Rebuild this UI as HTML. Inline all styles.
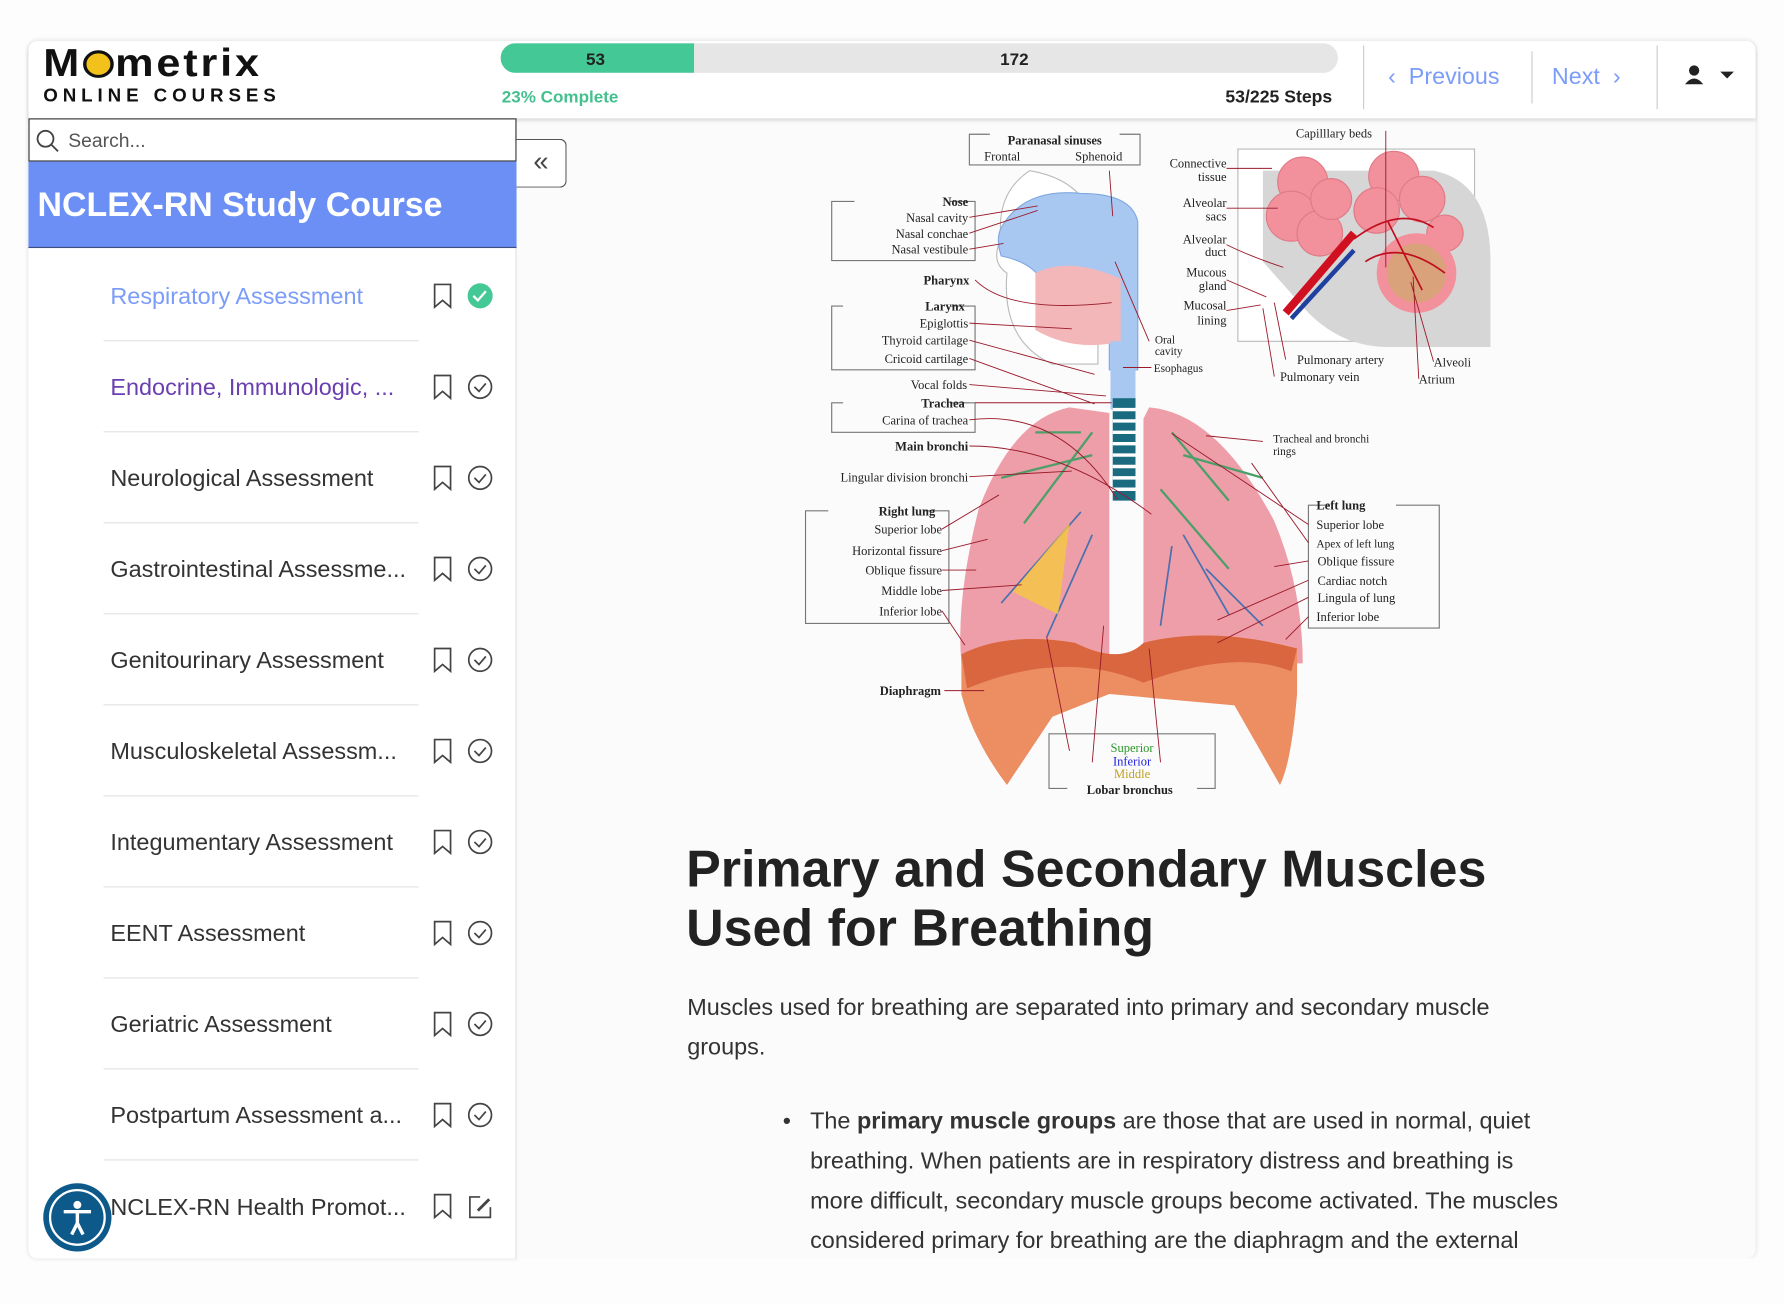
<!DOCTYPE html>
<html><head><meta charset="utf-8">
<style>
*{box-sizing:border-box;margin:0;padding:0}
html,body{width:1784px;height:1300px;overflow:hidden;background:#fdfdfd;font-family:"Liberation Sans",sans-serif}
#w{position:absolute;left:0;top:0;width:1568px;height:1143px;transform:scale(1.13776);transform-origin:0 0}
.a{position:absolute;white-space:nowrap}
.card{position:absolute;left:25px;top:36px;width:1518px;height:1070px;background:#fbfbfc;border-radius:8px;box-shadow:0 0 4px rgba(0,0,0,.12)}
.hdr{position:absolute;left:25px;top:36px;width:1518px;height:68px;background:#fff;border-radius:8px 8px 0 0;box-shadow:0 2px 3px rgba(0,0,0,.12)}
.side{position:absolute;left:25px;top:104px;width:429px;height:1002px;background:#fff;border-right:1px solid #ddd;border-radius:0 0 0 8px}
.item{position:absolute;left:97px;font-size:20.6px;color:#333}
.sep{position:absolute;left:91px;width:277px;height:1px;background:#e2e2e2}
.vd{position:absolute;width:1px;background:#ccc}
</style></head><body><div id="w">
<div class="card"></div>
<div class="hdr"></div>
<!-- logo -->
<div class="a" style="left:38px;top:37px;font-size:38px;font-weight:900;letter-spacing:2.5px;color:#111;transform:scaleY(.9);transform-origin:0 0">M<span style="display:inline-block;width:27px;height:27px;border-radius:50%;background:#f2c21b;border:3px solid #111;vertical-align:-2px;margin:0 1px"></span>metrix</div>
<div class="a" style="left:38px;top:75px;font-size:16.5px;font-weight:700;letter-spacing:4.3px;color:#111">ONLINE COURSES</div>
<!-- progress -->
<div class="a" style="left:440px;top:38px;width:736px;height:26px;border-radius:13px;background:#e6e6e6;overflow:hidden"><div style="width:170px;height:26px;background:#44c896"></div></div>
<div class="a" style="left:515px;top:44px;font-size:15px;font-weight:700;color:#222">53</div>
<div class="a" style="left:879px;top:44px;font-size:15px;font-weight:700;color:#222">172</div>
<div class="a" style="left:441px;top:77px;font-size:15px;font-weight:700;color:#44c08f">23% Complete</div>
<div class="a" style="left:1077px;top:77px;font-size:15.5px;font-weight:700;color:#222">53/225 Steps</div>
<div class="vd" style="left:1198px;top:40px;height:56px"></div>
<div class="vd" style="left:1346px;top:45px;height:46px"></div>
<div class="vd" style="left:1456px;top:40px;height:56px"></div>
<div class="a" style="left:1220px;top:56px;font-size:20.5px;color:#7b9cf8">&#8249;&nbsp; Previous</div>
<div class="a" style="left:1364px;top:56px;font-size:20.5px;color:#7b9cf8">Next &nbsp;&#8250;</div>
<svg class="a" style="left:1478px;top:56px" width="50" height="22"><circle cx="11" cy="6" r="4.5" fill="#222"/><path d="M3 18 Q11 8 19 18Z" fill="#222"/><path d="M34 7h12l-6 6z" fill="#222"/></svg>
<!-- sidebar -->
<div class="side"></div>
<div class="a" style="left:25px;top:104px;width:429px;height:38px;border:1.5px solid #333;background:#fff"></div>
<svg class="a" style="left:31px;top:113px" width="22" height="22"><circle cx="9" cy="9" r="7" stroke="#444" stroke-width="1.6" fill="none"/><path d="M14 14l6 6" stroke="#444" stroke-width="1.6"/></svg>
<div class="a" style="left:60px;top:114px;font-size:17px;color:#555">Search...</div>
<div class="a" style="left:25px;top:142px;width:429px;height:76px;background:#6b8ff5;border-bottom:1px solid #3d4d80"></div>
<div class="a" style="left:33px;top:164px;font-size:29.8px;font-weight:700;color:#fff">NCLEX-RN Study Course</div>
<div class="a" style="left:454px;top:122px;width:44px;height:43px;border:1.5px solid #555;border-left:none;border-radius:0 6px 6px 0;background:#fff;font-size:24px;color:#444;text-align:center;line-height:40px">&#171;</div>

<div class="item" style="top:249px;color:#7b9cf8">Respiratory Assessment</div>
<div class="item" style="top:329px;color:#6a3fb0">Endocrine, Immunologic, ...</div>
<div class="item" style="top:409px">Neurological Assessment</div>
<div class="item" style="top:489px">Gastrointestinal Assessme...</div>
<div class="item" style="top:569px">Genitourinary Assessment</div>
<div class="item" style="top:649px">Musculoskeletal Assessm...</div>
<div class="item" style="top:729px">Integumentary Assessment</div>
<div class="item" style="top:809px">EENT Assessment</div>
<div class="item" style="top:889px">Geriatric Assessment</div>
<div class="item" style="top:969px">Postpartum Assessment a...</div>
<div class="item" style="top:1050px">NCLEX-RN Health Promot...</div>
<div class="sep" style="top:299px"></div><div class="sep" style="top:379px"></div><div class="sep" style="top:459px"></div><div class="sep" style="top:539px"></div><div class="sep" style="top:619px"></div><div class="sep" style="top:699px"></div><div class="sep" style="top:779px"></div><div class="sep" style="top:859px"></div><div class="sep" style="top:939px"></div><div class="sep" style="top:1019px"></div>
<svg class="a" style="left:370px;top:240px" width="70" height="840" fill="none" stroke="#444" stroke-width="1.5">
<path d="M12 10h14v20l-7-6-7 6z"/>
<circle cx="52" cy="20" r="11" fill="#44c896" stroke="none"/><path d="M46 20l4 4 7-8" stroke="#fff" stroke-width="2"/>
<g transform="translate(0,80)"><path d="M12 10h14v20l-7-6-7 6z"/><circle cx="52" cy="20" r="10"/><path d="M47 20l4 4 6-7"/></g>
<g transform="translate(0,160)"><path d="M12 10h14v20l-7-6-7 6z"/><circle cx="52" cy="20" r="10"/><path d="M47 20l4 4 6-7"/></g>
<g transform="translate(0,240)"><path d="M12 10h14v20l-7-6-7 6z"/><circle cx="52" cy="20" r="10"/><path d="M47 20l4 4 6-7"/></g>
<g transform="translate(0,320)"><path d="M12 10h14v20l-7-6-7 6z"/><circle cx="52" cy="20" r="10"/><path d="M47 20l4 4 6-7"/></g>
<g transform="translate(0,400)"><path d="M12 10h14v20l-7-6-7 6z"/><circle cx="52" cy="20" r="10"/><path d="M47 20l4 4 6-7"/></g>
<g transform="translate(0,480)"><path d="M12 10h14v20l-7-6-7 6z"/><circle cx="52" cy="20" r="10"/><path d="M47 20l4 4 6-7"/></g>
<g transform="translate(0,560)"><path d="M12 10h14v20l-7-6-7 6z"/><circle cx="52" cy="20" r="10"/><path d="M47 20l4 4 6-7"/></g>
<g transform="translate(0,640)"><path d="M12 10h14v20l-7-6-7 6z"/><circle cx="52" cy="20" r="10"/><path d="M47 20l4 4 6-7"/></g>
<g transform="translate(0,720)"><path d="M12 10h14v20l-7-6-7 6z"/><circle cx="52" cy="20" r="10"/><path d="M47 20l4 4 6-7"/></g>
<g transform="translate(0,800)"><path d="M12 10h14v20l-7-6-7 6z"/><path d="M52 12h-9v18h18v-9"/><path d="M50 24l10-10" stroke-width="2.5"/></g>
</svg>
<svg class="a" style="left:37px;top:1039px" width="62" height="62"><circle cx="31" cy="31" r="30" fill="#0d5a8a"/><circle cx="31" cy="31" r="24" fill="none" stroke="#fff" stroke-width="2"/><circle cx="31" cy="20" r="3.5" fill="#fff"/><path d="M19 26h24M31 26v10l-5 10M31 36l5 10" stroke="#fff" stroke-width="3" fill="none"/></svg>

<!-- diagram -->
<svg class="a" style="left:0;top:0" width="1568" height="1143" font-family="Liberation Serif,serif" font-size="11" fill="#222">
<rect x="1088" y="131" width="208" height="169" fill="#fff" stroke="#bbb"/>
<path d="M1110 150h150q50 10 50 80v75h-90q-40 0-70-30l-40-45z" fill="#d6d6d6"/>
<g fill="#f2909b" stroke="#e07a86"><circle cx="1145" cy="160" r="22"/><circle cx="1135" cy="190" r="22"/><circle cx="1160" cy="205" r="20"/><circle cx="1170" cy="175" r="18"/><circle cx="1225" cy="155" r="22"/><circle cx="1210" cy="185" r="20"/><circle cx="1250" cy="175" r="20"/><circle cx="1270" cy="205" r="16"/></g>
<circle cx="1245" cy="240" r="35" fill="#f2909b"/>
<circle cx="1245" cy="240" r="26" fill="#d9a27a"/>
<path d="M1130 275l60-70" stroke="#d01020" stroke-width="7"/><path d="M1135 280l55-60" stroke="#2040a0" stroke-width="4"/>
<path d="M1190 210q40-30 70-10M1200 230q30-20 70 10M1220 195l30 60" stroke="#c01020" stroke-width="1.5" fill="none"/>
<path d="M905 150q-30 20-25 60q-10 20 5 30q-5 60 40 80l40 0v-100q0-60-60-70z" fill="#fff" stroke="#bbb"/>
<path d="M880 200q20-35 70-30q45 0 50 25v130h-25v-80h-60q-10-15-35-20q-5-15 0-25z" fill="#a8c8f2" stroke="#80a8e0"/>
<path d="M910 240q30-15 75 5v55q-40 10-75-10z" fill="#f3b7b9"/>
<rect x="976" y="300" width="22" height="60" fill="#a8c8f2"/>
<path d="M940 358q-50 10-80 90q-20 80-15 135h130v-220z" fill="#ee9ea8"/>
<path d="M1010 358q60 5 110 100q25 60 25 125h-140v-215z" fill="#ee9ea8"/>
<g stroke="#4e9e6a" stroke-width="2" fill="none"><path d="M960 380l-60 80M960 400l-80 20M950 380l-40 0M1030 380l50 60M1040 400l70 20M1020 430l60 70"/></g>
<g stroke="#4a70b0" stroke-width="1.5" fill="none"><path d="M950 450l-70 80M960 470l-40 90M1040 470l40 70M1030 480l-10 70M1060 500l50 50"/></g>
<path d="M940 460l-50 60l40 20z" fill="#f5c840" opacity=".8"/>
<rect x="978" y="350" width="20" height="90" fill="#1a6a80"/>
<g stroke="#fff" stroke-width="3"><path d="M978 360h20M978 370h20M978 380h20M978 390h20M978 400h20M978 410h20M978 420h20M978 430h20"/></g>
<path d="M845 575q40-20 100-10q40 20 60 0q60-15 135 5v40q-5 60-15 80l-40-70l-110-10l-50 20l-40 60q-30-40-40-80z" fill="#ec8d62"/>
<path d="M845 575q40-20 100-10q40 20 60 0q60-15 135 5l-5 20q-50-20-130 10q-70-30-155 5z" fill="#d9663e"/>
<g fill="none" stroke="#777"><path d="M870 118h-18v27h150v-27h-18"/><path d="M835 177h22v52h-126v-52h20"/><path d="M835 269h22v56h-126v-56h10"/><path d="M835 354h22v26h-126v-26h10"/><path d="M812 449h22v99h-126v-99h20"/><path d="M1168 444h-18v108h115v-108h-38"/><path d="M938 693h-16v-48h146v48h-16"/></g>
<g stroke="#9a1a2a" stroke-width=".8" fill="none"><path d="M852 191l60-10M852 205l60-20M852 219l30-5M857 246q30 30 120 20M852 284l90 5M852 299l110 30M852 315l110 40M852 338l120 10M857 354l120 0M852 369q80-10 130 70M852 392q80 0 160 60M852 419l90-5M828 465l50-30M828 484l40-10M828 501l30 0M828 519l70-5M828 537l20 30M830 607l35 0M1150 461l-120-80M1150 477l-50-70M1150 493l-30 5M1150 510l-80 35M1150 525l-80 40M1150 542l-20 20M1110 388l-50 -5M1078 148l40 0M1078 183l45 0M1078 215q20 10 50 20M1078 246l35 15M1078 273l30 -5M1218 115v120M1130 316l-10-50M1120 331l-10-60M1260 318l-20-70M1247 333l-5-90M975 150l3 40M1010 300l-30-70M1012 323l-25 0M940 660l-20-100M960 670l10-120M1020 670l-10-100"/></g>
<g text-anchor="end">
<text x="851" y="181" font-weight="700">Nose</text><text x="851" y="195">Nasal cavity</text><text x="851" y="209">Nasal conchae</text><text x="851" y="223">Nasal vestibule</text>
<text x="852" y="250" font-weight="700">Pharynx</text>
<text x="848" y="273" font-weight="700">Larynx</text><text x="851" y="288">Epiglottis</text><text x="851" y="303">Thyroid cartilage</text><text x="851" y="319">Cricoid cartilage</text>
<text x="850" y="342">Vocal folds</text><text x="848" y="358" font-weight="700">Trachea</text><text x="851" y="373">Carina of trachea</text>
<text x="851" y="396" font-weight="700">Main bronchi</text><text x="851" y="423">Lingular division bronchi</text>
<text x="822" y="453" font-weight="700">Right lung</text><text x="828" y="469">Superior lobe</text><text x="828" y="488">Horizontal fissure</text><text x="828" y="505">Oblique fissure</text><text x="828" y="523">Middle lobe</text><text x="828" y="541">Inferior lobe</text>
<text x="827" y="611" font-weight="700">Diaphragm</text>
<text x="1078" y="147">Connective</text><text x="1078" y="159">tissue</text><text x="1078" y="182">Alveolar</text><text x="1078" y="194">sacs</text><text x="1078" y="214">Alveolar</text><text x="1078" y="225">duct</text><text x="1078" y="243">Mucous</text><text x="1078" y="255">gland</text><text x="1078" y="272">Mucosal</text><text x="1078" y="285">lining</text>
</g>
<text x="927" y="127" text-anchor="middle" font-weight="700">Paranasal sinuses</text><text x="865" y="141">Frontal</text><text x="945" y="141">Sphenoid</text>
<text x="1139" y="121">Capilllary beds</text>
<g font-size="10"><text x="1015" y="302">Oral</text><text x="1015" y="312">cavity</text><text x="1014" y="327">Esophagus</text><text x="1119" y="389">Tracheal and bronchi</text><text x="1119" y="400">rings</text><text x="1157" y="481">Apex of left lung</text></g>
<text x="1140" y="320">Pulmonary artery</text><text x="1125" y="335">Pulmonary vein</text><text x="1260" y="322">Alveoli</text><text x="1247" y="337">Atrium</text>
<text x="1157" y="448" font-weight="700">Left lung</text><text x="1157" y="465">Superior lobe</text><text x="1158" y="497">Oblique fissure</text><text x="1158" y="514">Cardiac notch</text><text x="1158" y="529">Lingula of lung</text><text x="1157" y="546">Inferior lobe</text>
<g text-anchor="middle"><text x="995" y="661" fill="#2a9a2a">Superior</text><text x="995" y="673" fill="#2020e0">Inferior</text><text x="995" y="684" fill="#c0a020">Middle</text><text x="993" y="698" font-weight="700">Lobar bronchus</text></g>
</svg>

<div class="a" style="left:603px;top:738px;font-size:45.7px;font-weight:700;color:#222;line-height:52px">Primary and Secondary Muscles<br>Used for Breathing</div>
<div class="a" style="left:604px;top:868px;font-size:20.6px;color:#333;line-height:35px">Muscles used for breathing are separated into primary and secondary muscle<br>groups.</div>
<div class="a" style="left:688px;top:968px;font-size:20.6px;color:#333;line-height:35px">•</div>
<div class="a" style="left:712px;top:968px;font-size:20.6px;color:#333;line-height:35px">The <b>primary muscle groups</b> are those that are used in normal, quiet<br>breathing. When patients are in respiratory distress and breathing is<br>more difficult, secondary muscle groups become activated. The muscles<br>considered primary for breathing are the diaphragm and the external</div>
<div class="a" style="left:455px;top:1106px;width:1100px;height:40px;background:#fdfdfd"></div>
</div></body></html>
